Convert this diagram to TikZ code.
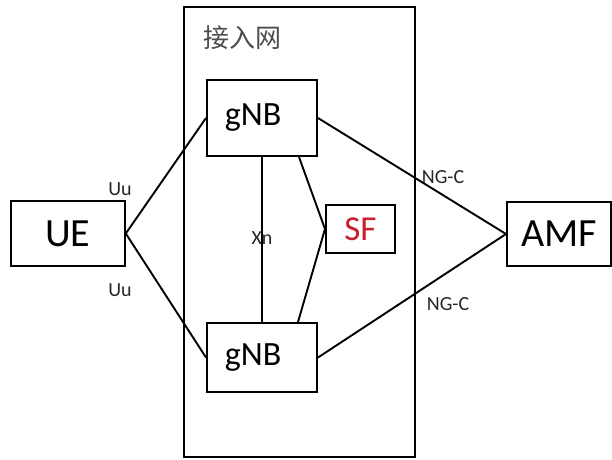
\documentclass[tikz,border=0pt]{standalone}
\usepackage{fontspec}
\setmainfont{Carlito}
\newfontfamily\cjk{Noto Sans CJK SC}
\definecolor{sfred}{RGB}{200,30,45}
\begin{document}
\begin{tikzpicture}[x=1pt,y=-1pt,line width=1.9pt]
    \useasboundingbox (0,0) rectangle (612,459);
    \tikzstyle{every node}=[inner sep=0pt]
    \tikzstyle{box}=[draw=black,line width=2pt]
    \tikzstyle{tag}=[font=\fontsize{20}{20}\selectfont,text=black!85]

    % access network frame
    \node[box,minimum width=231pt,minimum height=450pt] (an) at (299.5,232) {};
    \node[font=\cjk\fontsize{26}{26}\selectfont,text=black!70] (anname) at (242,38) {接入网};

    \node[box,minimum width=114pt,minimum height=65pt,font=\fontsize{40}{40}\selectfont] (ue) at (67.8,233.5) {UE};
    \node[box,minimum width=104pt,minimum height=64pt,font=\fontsize{40}{40}\selectfont] (amf) at (559,234) {AMF};
    \node[box,minimum width=110pt,minimum height=76pt,font=\fontsize{34}{34}\selectfont] (gnba) at (262,118) {\raisebox{4pt}{gNB\hspace{18pt}}};
    \node[box,minimum width=110pt,minimum height=69pt,font=\fontsize{34}{34}\selectfont] (gnbb) at (262,357.5) {\raisebox{2pt}{gNB\hspace{18pt}}};
    \node[box,minimum width=69pt,minimum height=48pt,font=\fontsize{35}{35}\selectfont,text=sfred] (sf) at (360.5,229) {\raisebox{-4pt}{SF}};

    \draw (ue.east) -- (gnba.west);
    \draw (ue.east) -- (gnbb.west);
    \draw (gnba.south) -- (gnbb.north);
    \draw ([xshift=-19pt]gnba.south east) -- (sf.west) -- ([xshift=-20pt]gnbb.north east);
    \draw (gnba.east) -- (amf.west);
    \draw (gnbb.east) -- (amf.west);

    \node[tag] (uua) at (120,189) {Uu};
    \node[tag] (uub) at (120,290) {Uu};
    \node[tag] (xn) at (262,238) {Xn};
    \node[tag] (ngca) at (443,177) {NG-C};
    \node[tag] (ngcb) at (448,304) {NG-C};
\end{tikzpicture}
\end{document}
